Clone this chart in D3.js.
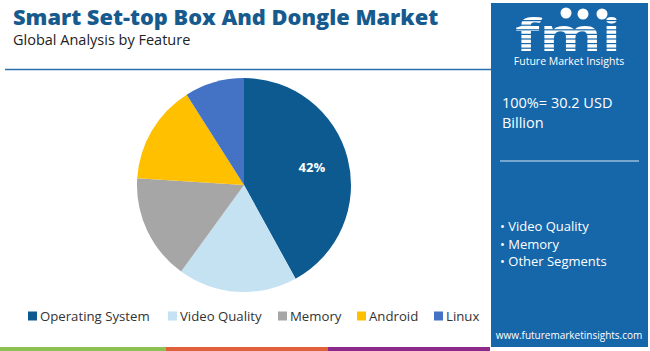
<!DOCTYPE html>
<html>
<head>
<meta charset="utf-8">
<script src="https://cdn.jsdelivr.net/npm/d3@7"></script>
<style>
  body { margin: 0; background: #fff; }
  text { font-family: "Open Sans", "Noto Sans", sans-serif; }
</style>
</head>
<body>
<div id="chart"></div>
<script>
var segments = ["Operating System", "Video Quality", "Memory", "Android", "Linux"];
var shares = [42, 18, 16, 15, 9];
var colors = ["#0d5a91", "#c5e2f3", "#a6a6a6", "#ffc000", "#4472c4"];
var keySegments = ["Video Quality", "Memory", "Other Segments"];
var totalLabel = ["100%= 30.2 USD", "Billion"];

var W = 650, H = 351;
var svg = d3.select("#chart").append("svg")
    .attr("width", W).attr("height", H);

// header
svg.append("text").attr("x", 13).attr("y", 25)
    .attr("font-size", 21.8).attr("font-weight", 800).attr("fill", "#175a8e")
    .text("Smart Set-top Box And Dongle Market");
svg.append("text").attr("x", 13).attr("y", 45)
    .attr("font-size", 14.5).attr("fill", "#222")
    .text("Global Analysis by Feature");
svg.append("line").attr("x1", 5).attr("x2", 491).attr("y1", 69.5).attr("y2", 69.5)
    .attr("stroke", "#2a6eab").attr("stroke-width", 1.5);

// pie
var data = segments.map(function(d, i) { return {seg: d, val: shares[i]}; });
var pie = d3.pie().sort(null).value(function(d) { return d.val; });
var arc = d3.arc().innerRadius(0).outerRadius(107);
var g = svg.append("g").attr("transform", "translate(244,185)");
g.selectAll("path").data(pie(data)).enter().append("path")
    .attr("d", arc)
    .attr("fill", function(d, i) { return colors[i]; });
var lab = d3.arc().innerRadius(70).outerRadius(70);
g.selectAll("text.lbl").data(pie(data).slice(0, 1)).enter().append("text")
    .attr("class", "lbl")
    .attr("transform", function(d) { return "translate(" + lab.centroid(d) + ")"; })
    .attr("dy", "0.35em").attr("text-anchor", "middle")
    .attr("font-size", 13).attr("font-weight", 700).attr("fill", "#fff")
    .text(function(d) { return d.data.val + "%"; });

// legend
var legX = [28, 168, 278, 357, 434];
var leg = svg.selectAll("g.leg").data(segments).enter().append("g")
    .attr("class", "leg")
    .attr("transform", function(d, i) { return "translate(" + legX[i] + ",316)"; });
leg.append("rect").attr("x", 0).attr("y", -4.5).attr("width", 9).attr("height", 9)
    .attr("fill", function(d, i) { return colors[i]; });
leg.append("text").attr("x", 12).attr("dy", "0.35em")
    .attr("font-size", 13.2).attr("fill", "#333")
    .text(function(d) { return d; });

// bottom stripes
var stripes = [[0, 166, "#8dc153"], [166, 328, "#e0603a"], [328, 490, "#8b2a8a"]];
svg.selectAll("rect.stripe").data(stripes).enter().append("rect")
    .attr("class", "stripe")
    .attr("x", function(d) { return d[0]; }).attr("y", 347)
    .attr("width", function(d) { return d[1] - d[0]; }).attr("height", 4)
    .attr("fill", function(d) { return d[2]; });

// right panel
var p = svg.append("g");
p.append("rect").attr("x", 491).attr("y", 3).attr("width", 157).attr("height", 344)
    .attr("fill", "#1666aa");
// logo
p.append("text").attr("x", 515).attr("y", 51)
    .attr("font-family", "DejaVu Serif").attr("font-size", 44).attr("font-weight", 700)
    .attr("textLength", 106).attr("lengthAdjust", "spacingAndGlyphs")
    .attr("fill", "#fff").text("fmi");
for (var k = 0; k < 7; k++) {
  p.append("rect").attr("x", 510).attr("y", 20 + k * 4.6).attr("width", 120).attr("height", 1.2)
      .attr("fill", "#1666aa");
}
[[566, 13], [583, 14], [602, 14]].forEach(function(c) {
  p.append("circle").attr("cx", c[0]).attr("cy", c[1]).attr("r", 5.5).attr("fill", "#fff");
});
p.append("text").attr("x", 569).attr("y", 65).attr("text-anchor", "middle")
    .attr("font-size", 10.5).attr("fill", "#fff").text("Future Market Insights");

p.selectAll("text.tot").data(totalLabel).enter().append("text")
    .attr("class", "tot")
    .attr("x", 502).attr("y", function(d, i) { return 108 + i * 20; })
    .attr("font-size", 14.5).attr("fill", "#fff")
    .text(function(d) { return d; });
p.append("line").attr("x1", 500).attr("x2", 639).attr("y1", 161).attr("y2", 161)
    .attr("stroke", "#d8e6f2").attr("stroke-width", 1.2);
p.selectAll("text.key").data(keySegments).enter().append("text")
    .attr("class", "key")
    .attr("x", 500).attr("y", function(d, i) { return 231 + i * 17.5; })
    .attr("font-size", 13).attr("fill", "#fff")
    .text(function(d) { return "\u2022 " + d; });
p.append("text").attr("x", 569).attr("y", 339).attr("text-anchor", "middle")
    .attr("font-size", 10).attr("fill", "#fff")
    .text("www.futuremarketinsights.com");
</script>
</body>
</html>
